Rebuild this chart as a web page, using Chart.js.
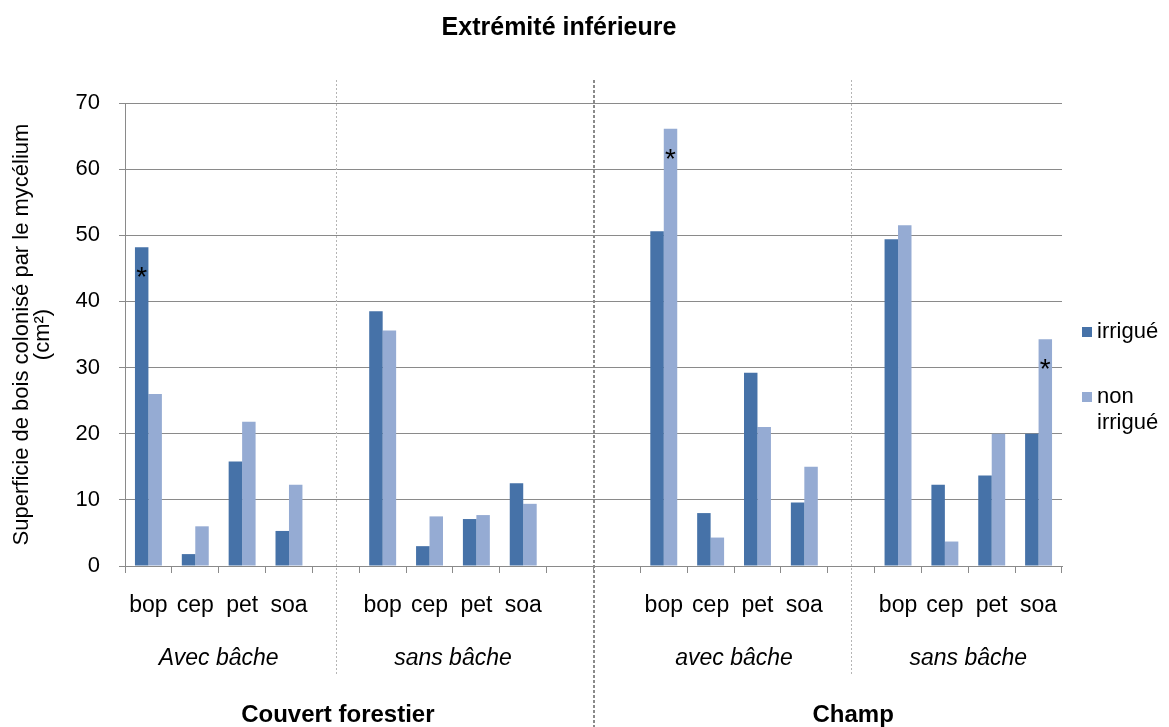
<!DOCTYPE html>
<html lang="fr">
<head>
  <meta charset="UTF-8">
  <title>Extrémité inférieure</title>
  <script src="https://cdn.jsdelivr.net/npm/chart.js"></script>
  <style>
    body { margin: 0; padding: 0; background: #fff; }
    #chart { display: block; }
  </style>
</head>
<body>
  <canvas id="chart" width="1169" height="727"></canvas>

  <script>
    // empty labels are spacer slots between the groups
    const categories = ['bop', 'cep', 'pet', 'soa', '',
                        'bop', 'cep', 'pet', 'soa', '', '',
                        'bop', 'cep', 'pet', 'soa', '',
                        'bop', 'cep', 'pet', 'soa'];
    const irrigue    = [48.2, 1.8, 15.8, 5.3, null,
                        38.5, 3.0, 7.1, 12.5, null, null,
                        50.6, 8.0, 29.2, 9.6, null,
                        49.4, 12.3, 13.7, 20.0];
    const nonIrrigue = [26.0, 6.0, 21.8, 12.3, null,
                        35.6, 7.5, 7.7, 9.4, null, null,
                        66.1, 4.3, 21.0, 15.0, null,
                        51.5, 3.7, 20.0, 34.3];
    const starsIrrigue = [0];          // indices marked with *
    const starsNonIrrigue = [11, 19];
    const groupLabels = ['Avec bâche', 'sans bâche', 'avec bâche', 'sans bâche'];
    const sectionLabels = ['Couvert forestier', 'Champ'];
    const yTicks = [0, 10, 20, 30, 40, 50, 60, 70];

    const FONT = '"Liberation Sans", Arial, sans-serif';
    const DARK = '#4672a8';
    const LIGHT = '#95abd3';
    Chart.defaults.font.family = FONT;
    Chart.defaults.color = '#000';

    // runs of non-empty labels = groups, empty slots = separators
    const groups = [];
    const spacers = [];
    categories.forEach((c, i) => {
      if (c === '') { spacers.push(i); return; }
      const last = groups[groups.length - 1];
      if (last && last.end === i - 1) last.end = i;
      else groups.push({ start: i, end: i });
    });

    const extras = {
      id: 'extras',
      afterDraw(chart) {
        const { ctx, scales: { x } } = chart;
        ctx.save();

        // separators
        const singles = spacers.filter(s => !spacers.includes(s - 1) && !spacers.includes(s + 1));
        const doubles = spacers.filter(s => spacers.includes(s + 1));
        ctx.strokeStyle = '#b5b5b5';
        ctx.lineWidth = 1;
        ctx.setLineDash([2, 2]);
        singles.forEach(s => {
          const px = Math.round(x.getPixelForValue(s)) + 0.5;
          ctx.beginPath();
          ctx.moveTo(px, 80);
          ctx.lineTo(px, 674);
          ctx.stroke();
        });
        ctx.strokeStyle = '#8a8a8a';
        ctx.lineWidth = 2;
        ctx.setLineDash([3, 2]);
        doubles.forEach(s => {
          const px = Math.round(x.getPixelForValue(s + 0.5));
          ctx.beginPath();
          ctx.moveTo(px, 80);
          ctx.lineTo(px, 727);
          ctx.stroke();
        });
        ctx.setLineDash([]);

        // title
        ctx.fillStyle = '#000';
        ctx.textAlign = 'center';
        ctx.textBaseline = 'middle';
        ctx.font = 'bold 25px ' + FONT;
        ctx.fillText('Extrémité inférieure', 559, 28);

        // group labels
        ctx.font = 'italic 23px ' + FONT;
        groups.forEach((g, i) => {
          const px = x.getPixelForValue((g.start + g.end) / 2);
          ctx.fillText(groupLabels[i], px, 659);
        });

        // section labels
        ctx.font = 'bold 24px ' + FONT;
        singles.forEach((s, i) => {
          ctx.fillText(sectionLabels[i], x.getPixelForValue(s) + 2, 715);
        });

        // asterisks
        ctx.font = '28px ' + FONT;
        [starsIrrigue, starsNonIrrigue].forEach((list, d) => {
          const meta = chart.getDatasetMeta(d);
          list.forEach(i => {
            const bar = meta.data[i];
            ctx.fillText('*', bar.x, bar.y + 31);
          });
        });

        // legend
        const legendLines = [['irrigué'], ['non', 'irrigué']];
        const legendTop = [332, 397];
        ctx.textAlign = 'left';
        ctx.font = '22px ' + FONT;
        chart.data.datasets.forEach((ds, d) => {
          ctx.fillStyle = ds.backgroundColor;
          ctx.fillRect(1082, legendTop[d] - 5, 10, 10);
          ctx.fillStyle = '#000';
          legendLines[d].forEach((t, k) => {
            ctx.fillText(t, 1097, legendTop[d] + k * 26);
          });
        });

        ctx.restore();
      }
    };

    new Chart(document.getElementById('chart'), {
      type: 'bar',
      data: {
        labels: categories,
        datasets: [
          { label: 'irrigué', data: irrigue, backgroundColor: DARK },
          { label: 'non irrigué', data: nonIrrigue, backgroundColor: LIGHT }
        ]
      },
      options: {
        responsive: false,
        animation: false,
        devicePixelRatio: 1,
        categoryPercentage: 0.575,
        barPercentage: 1.0,
        layout: { padding: { top: 103, right: 107, left: 0, bottom: 0 } },
        plugins: {
          legend: { display: false },
          tooltip: { enabled: false }
        },
        scales: {
          x: {
            grid: {
              offset: true,
              drawOnChartArea: false,
              drawTicks: true,
              tickLength: 7,
              color: '#8a8a8a'
            },
            border: { color: '#8a8a8a' },
            ticks: { font: { size: 23 }, color: '#000', padding: 19, autoSkip: false, maxRotation: 0 },
            afterFit: s => { s.height = 161; }
          },
          y: {
            min: 0,
            max: 70,
            afterBuildTicks: s => { s.ticks = yTicks.map(v => ({ value: v })); },
            grid: { color: '#8a8a8a', tickLength: 6 },
            border: { color: '#8a8a8a' },
            ticks: { font: { size: 22 }, color: '#000', padding: 19 },
            title: {
              display: true,
              text: ['Superficie de bois colonisé par le mycélium', '(cm²)'],
              font: { size: 22, lineHeight: '21px' },
              color: '#000',
              padding: { top: 11, bottom: 0 }
            },
            afterFit: s => { s.width = 125; }
          }
        }
      },
      plugins: [extras]
    });
  </script>
</body>
</html>
